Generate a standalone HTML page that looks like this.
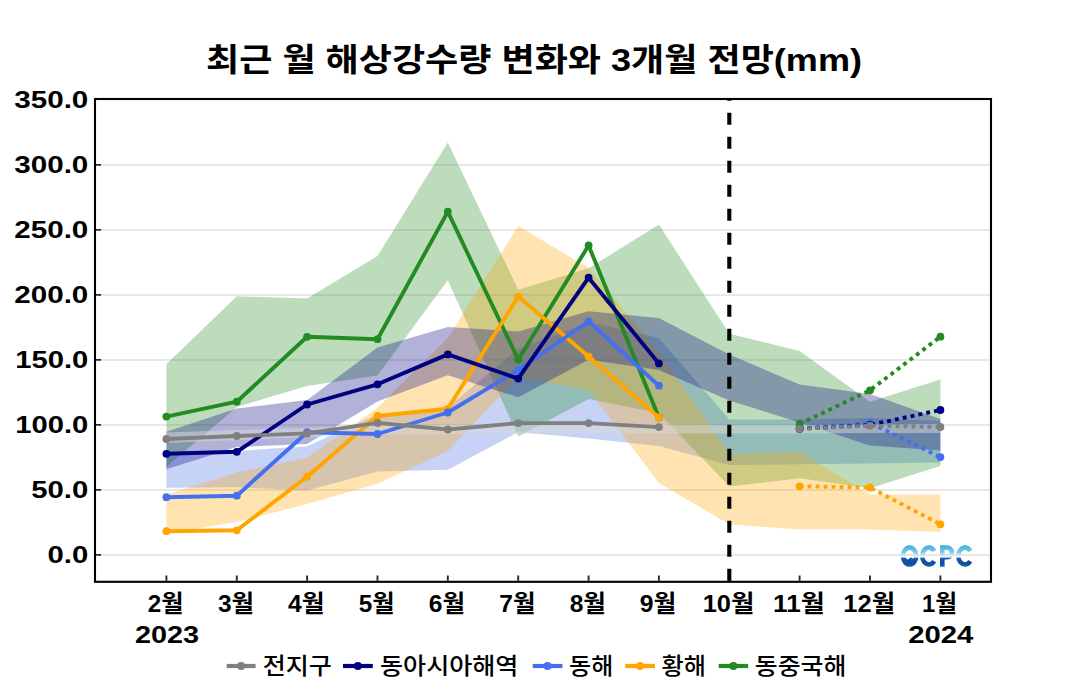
<!DOCTYPE html><html><head><meta charset="utf-8"><title>chart</title><style>html,body{margin:0;padding:0;background:#fff;font-family:"Liberation Sans",sans-serif}svg{display:block}</style></head><body><svg width="1070" height="700" viewBox="0 0 1070 700">
<defs><linearGradient id="lg" gradientUnits="userSpaceOnUse" x1="0" y1="545.3" x2="0" y2="566.8"><stop offset="0" stop-color="#38b0d8"/><stop offset="0.30" stop-color="#7cc8e4"/><stop offset="0.48" stop-color="#d8ecf7"/><stop offset="0.555" stop-color="#e6f3fa"/><stop offset="0.60" stop-color="#1c5cac"/><stop offset="0.83" stop-color="#0e4c9e"/><stop offset="1" stop-color="#1a66b6"/></linearGradient><clipPath id="cp"><rect x="95" y="99" width="896" height="482.8"/></clipPath></defs>
<rect width="1070" height="700" fill="#fff"/>
<path d="M102 554.9H990M102 489.9H990M102 424.9H990M102 359.9H990M102 294.9H990M102 229.9H990M102 164.9H990" stroke="#e8e8e8" stroke-width="2" fill="none"/>
<path d="M96 554.9h5.2M96 489.9h5.2M96 424.9h5.2M96 359.9h5.2M96 294.9h5.2M96 229.9h5.2M96 164.9h5.2M166.4 580.8v-5.2M236.8 580.8v-5.2M307.1 580.8v-5.2M377.5 580.8v-5.2M447.8 580.8v-5.2M518.2 580.8v-5.2M588.6 580.8v-5.2M658.9 580.8v-5.2M729.3 580.8v-5.2M799.6 580.8v-5.2M870.0 580.8v-5.2M940.4 580.8v-5.2" stroke="#2a2a2a" stroke-width="1.9" fill="none"/>
<g clip-path="url(#cp)">
<polygon points="166.4,453.0 236.8,451.0 307.1,446.3 377.5,414.5 447.8,407.0 518.2,349.0 588.6,322.0 658.9,338.0 729.3,419.6 799.6,419.5 870.0,418.0 940.4,421.0 940.4,462.6 870.0,463.4 799.6,464.3 729.3,465.0 658.9,446.0 588.6,438.6 518.2,432.0 447.8,469.8 377.5,471.5 307.1,490.6 236.8,487.2 166.4,487.8" fill="#4169E1" fill-opacity="0.3"/>
<polygon points="166.4,364.3 236.8,296.3 307.1,298.5 377.5,256.0 447.8,142.6 518.2,289.7 588.6,268.3 658.9,224.5 729.3,333.7 799.6,350.9 870.0,401.7 940.4,379.4 940.4,466.0 870.0,488.3 799.6,478.3 729.3,486.4 658.9,413.0 588.6,399.0 518.2,436.5 447.8,280.3 377.5,375.5 307.1,386.0 236.8,407.0 166.4,467.0" fill="#228B22" fill-opacity="0.3"/>
<polygon points="166.4,494.5 236.8,472.6 307.1,457.4 377.5,407.7 447.8,338.0 518.2,226.0 588.6,267.7 658.9,351.5 729.3,454.3 799.6,451.9 870.0,494.4 940.4,494.4 940.4,532.0 870.0,529.6 799.6,529.6 729.3,524.3 658.9,483.0 588.6,390.0 518.2,377.0 447.8,451.0 377.5,483.8 307.1,504.0 236.8,522.0 166.4,533.5" fill="#FFA500" fill-opacity="0.3"/>
<polygon points="166.4,431.8 236.8,408.5 307.1,400.0 377.5,347.5 447.8,327.0 518.2,331.5 588.6,311.3 658.9,318.0 729.3,354.5 799.6,384.5 870.0,394.0 940.4,419.0 940.4,450.5 870.0,445.4 799.6,422.5 729.3,400.5 658.9,370.0 588.6,359.7 518.2,397.3 447.8,375.3 377.5,401.5 307.1,444.0 236.8,447.0 166.4,469.3" fill="#000080" fill-opacity="0.3"/>
<polygon points="166.4,432.5 236.8,430.0 307.1,428.0 377.5,426.0 447.8,425.0 518.2,424.5 588.6,424.5 658.9,424.5 729.3,425.0 799.6,425.0 870.0,424.5 940.4,424.0 940.4,433.0 870.0,433.0 799.6,433.5 729.3,433.6 658.9,433.5 588.6,433.5 518.2,433.5 447.8,434.0 377.5,435.0 307.1,437.0 236.8,440.0 166.4,443.0" fill="#D9D9D9" fill-opacity="0.5"/>
<path d="M729.3 580.8V99.0" stroke="#000" stroke-width="4.1" stroke-dasharray="12 12" fill="none"/>
<path d="M166.4 416.6L236.8 401.7L307.1 336.8L377.5 339.2L447.8 211.7L518.2 359.7L588.6 245.5L658.9 417.4" stroke="#228B22" stroke-width="3.9" fill="none" stroke-linejoin="round"/>
<path d="M799.6 424.0L870.0 390.3L940.4 336.7" stroke="#228B22" stroke-width="3.9" fill="none" stroke-dasharray="3.9 4.1" stroke-linejoin="round"/>
<g fill="#228B22"><circle cx="166.4" cy="416.6" r="3.9"/><circle cx="236.8" cy="401.7" r="3.9"/><circle cx="307.1" cy="336.8" r="3.9"/><circle cx="377.5" cy="339.2" r="3.9"/><circle cx="447.8" cy="211.7" r="3.9"/><circle cx="518.2" cy="359.7" r="3.9"/><circle cx="588.6" cy="245.5" r="3.9"/><circle cx="658.9" cy="417.4" r="3.9"/><circle cx="799.6" cy="424.0" r="3.9"/><circle cx="870.0" cy="390.3" r="3.9"/><circle cx="940.4" cy="336.7" r="3.9"/></g>
<path d="M166.4 531.2L236.8 530.3L307.1 476.7L377.5 416.0L447.8 408.8L518.2 296.6L588.6 356.6L658.9 417.4" stroke="#FFA500" stroke-width="3.9" fill="none" stroke-linejoin="round"/>
<path d="M799.6 486.3L870.0 487.5L940.4 524.3" stroke="#FFA500" stroke-width="3.9" fill="none" stroke-dasharray="3.9 4.1" stroke-linejoin="round"/>
<g fill="#FFA500"><circle cx="166.4" cy="531.2" r="3.9"/><circle cx="236.8" cy="530.3" r="3.9"/><circle cx="307.1" cy="476.7" r="3.9"/><circle cx="377.5" cy="416.0" r="3.9"/><circle cx="447.8" cy="408.8" r="3.9"/><circle cx="518.2" cy="296.6" r="3.9"/><circle cx="588.6" cy="356.6" r="3.9"/><circle cx="658.9" cy="417.4" r="3.9"/><circle cx="799.6" cy="486.3" r="3.9"/><circle cx="870.0" cy="487.5" r="3.9"/><circle cx="940.4" cy="524.3" r="3.9"/></g>
<path d="M166.4 497.2L236.8 495.7L307.1 432.2L377.5 434.0L447.8 412.5L518.2 370.0L588.6 321.3L658.9 385.7" stroke="#4470EE" stroke-width="3.9" fill="none" stroke-linejoin="round"/>
<path d="M799.6 428.7L870.0 422.8L940.4 457.1" stroke="#4470EE" stroke-width="3.9" fill="none" stroke-dasharray="3.9 4.1" stroke-linejoin="round"/>
<g fill="#4470EE"><circle cx="166.4" cy="497.2" r="3.9"/><circle cx="236.8" cy="495.7" r="3.9"/><circle cx="307.1" cy="432.2" r="3.9"/><circle cx="377.5" cy="434.0" r="3.9"/><circle cx="447.8" cy="412.5" r="3.9"/><circle cx="518.2" cy="370.0" r="3.9"/><circle cx="588.6" cy="321.3" r="3.9"/><circle cx="658.9" cy="385.7" r="3.9"/><circle cx="799.6" cy="428.7" r="3.9"/><circle cx="870.0" cy="422.8" r="3.9"/><circle cx="940.4" cy="457.1" r="3.9"/></g>
<path d="M166.4 453.8L236.8 451.8L307.1 404.5L377.5 384.3L447.8 354.4L518.2 378.6L588.6 277.7L658.9 363.4" stroke="#000080" stroke-width="3.9" fill="none" stroke-linejoin="round"/>
<path d="M799.6 428.7L870.0 425.0L940.4 410.0" stroke="#000080" stroke-width="3.9" fill="none" stroke-dasharray="3.9 4.1" stroke-linejoin="round"/>
<g fill="#000080"><circle cx="166.4" cy="453.8" r="3.9"/><circle cx="236.8" cy="451.8" r="3.9"/><circle cx="307.1" cy="404.5" r="3.9"/><circle cx="377.5" cy="384.3" r="3.9"/><circle cx="447.8" cy="354.4" r="3.9"/><circle cx="518.2" cy="378.6" r="3.9"/><circle cx="588.6" cy="277.7" r="3.9"/><circle cx="658.9" cy="363.4" r="3.9"/><circle cx="799.6" cy="428.7" r="3.9"/><circle cx="870.0" cy="425.0" r="3.9"/><circle cx="940.4" cy="410.0" r="3.9"/></g>
<path d="M166.4 439.0L236.8 436.0L307.1 433.4L377.5 422.9L447.8 429.5L518.2 423.1L588.6 423.1L658.9 427.1" stroke="#808080" stroke-width="3.9" fill="none" stroke-linejoin="round"/>
<path d="M799.6 428.7L870.0 425.7L940.4 427.0" stroke="#808080" stroke-width="3.9" fill="none" stroke-dasharray="3.9 4.1" stroke-linejoin="round"/>
<g fill="#808080"><circle cx="166.4" cy="439.0" r="3.9"/><circle cx="236.8" cy="436.0" r="3.9"/><circle cx="307.1" cy="433.4" r="3.9"/><circle cx="377.5" cy="422.9" r="3.9"/><circle cx="447.8" cy="429.5" r="3.9"/><circle cx="518.2" cy="423.1" r="3.9"/><circle cx="588.6" cy="423.1" r="3.9"/><circle cx="658.9" cy="427.1" r="3.9"/><circle cx="799.6" cy="428.7" r="3.9"/><circle cx="870.0" cy="425.7" r="3.9"/><circle cx="940.4" cy="427.0" r="3.9"/></g>
</g>
<g fill="none" stroke="url(#lg)" stroke-width="4.6"><ellipse cx="909.6" cy="556.05" rx="6.6" ry="8.45"/><path d="M934.14 551.08A6.6 8.45 0 1 0 934.14 561.02"/><path d="M970.24 551.08A6.6 8.45 0 1 0 970.24 561.02"/><path d="M942.3 566.8V547.6H947.2a4.8 4.8 0 0 1 0 9.6H942.3"/></g>
<clipPath id="oc"><ellipse cx="909.6" cy="556.05" rx="6.6" ry="8.45"/></clipPath>
<path clip-path="url(#oc)" d="M903 558.25q1.6 -2.4 3.2 0t3.2 0t3.2 0t3.2 0V566.8H903Z" fill="url(#lg)"/>
<rect x="95" y="99" width="896" height="482.8" fill="none" stroke="#000" stroke-width="2.1"/>
<g font-family='"Liberation Sans", "Noto Sans CJK KR", sans-serif' fill="#000">
<text x="534" y="71.3" font-size="32" font-weight="bold" text-anchor="middle" textLength="656" lengthAdjust="spacingAndGlyphs">최근 월 해상강수량 변화와 3개월 전망(mm)</text>
<g font-size="24" font-weight="bold" text-anchor="end">
<text x="88.3" y="562.9" textLength="40.7" lengthAdjust="spacingAndGlyphs">0.0</text>
<text x="88.3" y="497.9" textLength="57" lengthAdjust="spacingAndGlyphs">50.0</text>
<text x="88.3" y="432.9" textLength="73" lengthAdjust="spacingAndGlyphs">100.0</text>
<text x="88.3" y="367.9" textLength="73" lengthAdjust="spacingAndGlyphs">150.0</text>
<text x="88.3" y="302.9" textLength="74" lengthAdjust="spacingAndGlyphs">200.0</text>
<text x="88.3" y="237.9" textLength="74" lengthAdjust="spacingAndGlyphs">250.0</text>
<text x="88.3" y="172.9" textLength="74" lengthAdjust="spacingAndGlyphs">300.0</text>
<text x="88.3" y="107.9" textLength="74" lengthAdjust="spacingAndGlyphs">350.0</text>
</g>
<g font-size="24" font-weight="bold" text-anchor="middle">
<text x="165.6" y="612" textLength="35.8" lengthAdjust="spacingAndGlyphs">2월</text>
<text x="236" y="612" textLength="36.1" lengthAdjust="spacingAndGlyphs">3월</text>
<text x="306.3" y="612" textLength="36.7" lengthAdjust="spacingAndGlyphs">4월</text>
<text x="376.7" y="612" textLength="35.9" lengthAdjust="spacingAndGlyphs">5월</text>
<text x="447" y="612" textLength="36.3" lengthAdjust="spacingAndGlyphs">6월</text>
<text x="517.4" y="612" textLength="36.2" lengthAdjust="spacingAndGlyphs">7월</text>
<text x="587.8" y="612" textLength="36.3" lengthAdjust="spacingAndGlyphs">8월</text>
<text x="658.1" y="612" textLength="36.5" lengthAdjust="spacingAndGlyphs">9월</text>
<text x="728.5" y="612" textLength="51.7" lengthAdjust="spacingAndGlyphs">10월</text>
<text x="798.9" y="612" textLength="51.7" lengthAdjust="spacingAndGlyphs">11월</text>
<text x="869.2" y="612" textLength="51.8" lengthAdjust="spacingAndGlyphs">12월</text>
<text x="939.6" y="612" textLength="35" lengthAdjust="spacingAndGlyphs">1월</text>
<text x="167" y="643" textLength="64.2" lengthAdjust="spacingAndGlyphs">2023</text>
<text x="940.7" y="643" textLength="65.1" lengthAdjust="spacingAndGlyphs">2024</text>
</g>
</g>
<path d="M226.7 666H255.6" stroke="#808080" stroke-width="4.2"/><circle cx="241.1" cy="666" r="4" fill="#808080"/>
<text x="262.8" y="674" font-family='"Liberation Sans", "Noto Sans CJK KR", sans-serif' font-size="23" font-weight="500" fill="#000" textLength="69.1" lengthAdjust="spacingAndGlyphs">전지구</text>
<path d="M343 666H372.8" stroke="#000080" stroke-width="4.2"/><circle cx="357.85" cy="666" r="4" fill="#000080"/>
<text x="380" y="674" font-family='"Liberation Sans", "Noto Sans CJK KR", sans-serif' font-size="23" font-weight="500" fill="#000" textLength="138.4" lengthAdjust="spacingAndGlyphs">동아시아해역</text>
<path d="M532.7 666H562.5" stroke="#4470EE" stroke-width="4.2"/><circle cx="547.55" cy="666" r="4" fill="#4470EE"/>
<text x="569.1" y="674" font-family='"Liberation Sans", "Noto Sans CJK KR", sans-serif' font-size="23" font-weight="500" fill="#000" textLength="44.1" lengthAdjust="spacingAndGlyphs">동해</text>
<path d="M625.2 666H655" stroke="#FFA500" stroke-width="4.2"/><circle cx="640.05" cy="666" r="4" fill="#FFA500"/>
<text x="661.6" y="674" font-family='"Liberation Sans", "Noto Sans CJK KR", sans-serif' font-size="23" font-weight="500" fill="#000" textLength="44.4" lengthAdjust="spacingAndGlyphs">황해</text>
<path d="M718.7 666H748.2" stroke="#228B22" stroke-width="4.2"/><circle cx="733.4" cy="666" r="4" fill="#228B22"/>
<text x="754.8" y="674" font-family='"Liberation Sans", "Noto Sans CJK KR", sans-serif' font-size="23" font-weight="500" fill="#000" textLength="91.5" lengthAdjust="spacingAndGlyphs">동중국해</text>
</svg></body></html>
